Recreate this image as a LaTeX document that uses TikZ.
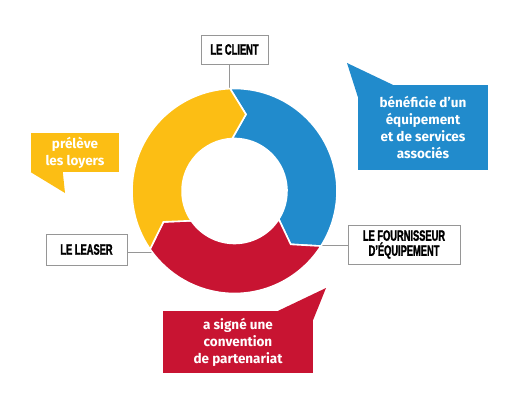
\documentclass[tikz,border=0pt]{standalone}
\usepackage{fontspec}
\setmainfont{Fira Sans}
\newfontfamily\condfont[FakeStretch=0.62, FakeBold=1.6]{Liberation Sans}

\definecolor{cblue}{RGB}{33,139,204}
\definecolor{cyellow}{RGB}{252,190,20}
\definecolor{cred}{RGB}{200,20,50}
\definecolor{cgray}{RGB}{150,150,150}

\tikzset{
  actor/.style={draw=cgray, line width=0.9pt, fill=white, align=center, inner sep=0pt,
    font=\condfont\bfseries\fontsize{15}{15}\selectfont},
  bubble/.style={text=white, align=center, inner sep=0pt,
    font=\bfseries\fontsize{13.5}{17}\selectfont},
  link/.style={draw=cgray, line width=0.9pt},
}

% un morceau de l'anneau : couleur, angle de depart, angle de fin
\newcommand{\ringpart}[3]{%
  \fill[#1, draw=white, line width=1.6pt]
    (#2:\rout) arc[start angle=#2, end angle=#3, radius=\rout]
    -- ({#3-\tip}:\rmid) -- (#3:\rin)
    arc[start angle=#3, end angle=#2, radius=\rin]
    -- ({#2-\tip}:\rmid) -- cycle;}

\begin{document}
\begin{tikzpicture}[x=1pt, y=1pt]
  \useasboundingbox (0,0) rectangle (531,400);

  % Acteurs
  \node[actor, minimum width=67pt, minimum height=29pt] (client) at (234.5,350.5) {LE CLIENT};
  \node[actor, minimum width=81pt, minimum height=31pt] (leaser) at (86.5,150.5) {LE LEASER};
  \node[actor, minimum width=112pt, minimum height=39pt] (fourn) at (404,155.5) {LE FOURNISSEUR\\D’ÉQUIPEMENT};

  % Points d'attache sur l'anneau
  \coordinate (clientpt) at (229,311);
  \coordinate (leaserpt) at (153,148);
  \coordinate (fournpt) at (322,155);

  \draw[link] (clientpt |- client.south) -- (clientpt);
  \draw[link] (leaserpt -| leaser.east) -- (leaserpt);
  \draw[link] (fournpt -| fourn.west) -- (fournpt);

  % Anneau
  \def\rout{102.5}
  \def\rin{52.5}
  \def\rmid{77.5}
  \def\tip{11}
  \begin{scope}[shift={(234.5,209)}]
    \ringpart{cblue}{92.5}{-32.5}
    \ringpart{cred}{-32.5}{-145.5}
    \ringpart{cyellow}{214.5}{92.5}
  \end{scope}

  % Bulles
  \node[bubble, fill=cblue, minimum width=130pt, minimum height=85pt] (benef) at (423,272.5)
    {bénéficie d’un\\équipement\\et de services\\associés};
  \coordinate (benefpt) at (347,337);
  \fill[cblue] ([yshift=-12pt]benef.north west) -- (benefpt) -- ([xshift=35pt]benef.north west) -- cycle;

  \node[bubble, fill=cyellow, minimum width=88pt, minimum height=39pt] (loyers) at (75,247.5)
    {prélève\\les loyers};
  \coordinate (loyerspt) at (65,207);
  \fill[cyellow] (loyers.south west) -- (loyerspt) -- ([xshift=32pt]loyers.south west) -- cycle;

  \node[bubble, fill=cred, minimum width=150pt, minimum height=62pt] (conv) at (238,58)
    {a signé une\\convention\\de partenariat};
  \coordinate (convpt) at (326,112);
  \fill[cred] ([xshift=-35pt]conv.north east) -- (convpt) -- ([yshift=-9pt]conv.north east) -- cycle;
\end{tikzpicture}
\end{document}
